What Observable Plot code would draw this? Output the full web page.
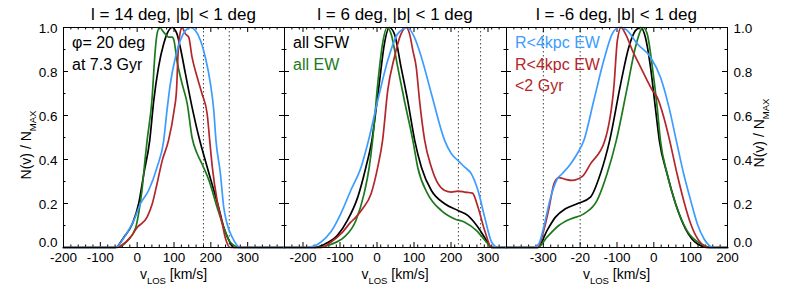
<!DOCTYPE html>
<html><head><meta charset="utf-8">
<script src="https://cdn.jsdelivr.net/npm/d3@7"></script>
<script src="https://cdn.jsdelivr.net/npm/@observablehq/plot@0.6"></script>
<style>
body{margin:0;background:#fff;}
#chart{position:relative;width:788px;height:285px;overflow:hidden;background:#fff;}
#chart svg{position:absolute;left:0;top:0;background:transparent;}
</style></head><body><div id="chart"></div>
<script>
// ---------- data ----------
const panelTitles = ["l = 14 deg, |b| < 1 deg", "l = 6 deg, |b| < 1 deg", "l = -6 deg, |b| < 1 deg"];
const xDomains = [[-200, 400], [-250, 350], [-400, 200]];
const xTickValues = [[-200,-100,0,100,200,300], [-200,-100,0,100,200,300], [-300,-200,-100,0,100,200]];
const xTickLabels = [["-200","-100","0","100","200","300"], ["-200","-100","0","100","200","300"], ["-300","-20","-100","0","100","200"]];
const yTickValues = [0, 0.2, 0.4, 0.6, 0.8, 1.0];
const yTickLabels = ["0.0","0.2","0.4","0.6","0.8","1.0"];
const dottedLines = [[180, 250], [220, 280], [-300, -200]];
const seriesColors = {sfw: "#000000", ew: "#1c7a1c", young: "#b3262a", inner: "#3d9cff"};
const annotations = [
  [{text: "φ= 20 deg", color: "#000"}, {text: "at 7.3 Gyr", color: "#000"}],
  [{text: "all SFW", color: "#000"}, {text: "all EW", color: "#1c7a1c"}],
  [{text: "R<4kpc EW", color: "#3d9cff"}, {text: "R<4kpc EW", color: "#b3262a"}, {text: "<2 Gyr", color: "#b3262a"}]
];

// l = 14 deg  [v_LOS, N/Nmax]
const l14_sfw = [[-200,0],[-59,0],[-36,0.047],[-13,0.108],[4,0.199],[18,0.335],[34,0.486],[45,0.668],[58,0.82],[72,0.926],[81,0.971],[95,1.0],[108,0.971],[117,0.91],[131,0.79],[149,0.638],[170,0.486],[185,0.395],[203,0.29],[221,0.183],[235,0.092],[249,0.032],[262,0],[400,0]];
const l14_ew = [[-200,0],[-55,0],[-27,0.03],[-4,0.09],[4,0.155],[13,0.259],[22,0.41],[27,0.486],[40,0.668],[49,0.895],[54,0.971],[61,1.0],[72,0.979],[86,0.956],[95,0.956],[100,0.941],[108,0.85],[122,0.744],[136,0.653],[149,0.5],[163,0.426],[176,0.38],[195,0.305],[217,0.183],[235,0.092],[253,0.024],[280,0],[400,0]];
const l14_young = [[-200,0],[-60,0],[-43,0.009],[-18,0.047],[0,0.091],[27,0.138],[41,0.199],[54,0.29],[68,0.395],[85,0.486],[100,0.62],[107,0.72],[111,0.88],[116,0.97],[122,1.0],[131,0.971],[140,0.956],[149,0.865],[163,0.774],[176,0.699],[190,0.608],[197,0.486],[204,0.365],[217,0.214],[231,0.108],[240,0.04],[253,0],[400,0]];
const l14_inner = [[-200,0],[-59,0],[-32,0.055],[-9,0.123],[9,0.199],[31,0.259],[54,0.365],[72,0.486],[81,0.623],[90,0.744],[104,0.865],[117,0.941],[131,0.986],[145,1.0],[158,0.986],[172,0.941],[185,0.865],[199,0.744],[208,0.623],[214,0.486],[226,0.335],[235,0.183],[244,0.108],[258,0.047],[280,0],[400,0]];

// l = 6 deg
const l6_sfw = [[-250,0],[-170,0],[-143,0.014],[-107,0.055],[-80,0.123],[-52,0.229],[-30,0.365],[-14,0.486],[6,0.744],[20,0.926],[33,1.0],[47,0.971],[65,0.82],[83,0.668],[102,0.486],[120,0.365],[147,0.259],[183,0.199],[219,0.168],[246,0.145],[273,0.092],[296,0.032],[310,0],[350,0]];
const l6_ew = [[-250,0],[-160,0],[-125,0.014],[-89,0.047],[-57,0.123],[-35,0.244],[-21,0.365],[-12,0.486],[2,0.744],[15,0.926],[27,1.0],[38,0.971],[56,0.82],[74,0.668],[97,0.486],[110,0.365],[137,0.244],[174,0.168],[210,0.13],[237,0.115],[269,0.077],[296,0.024],[310,0],[350,0]];
const l6_young = [[-250,0],[-150,0],[-125,0.024],[-93,0.07],[-71,0.115],[-57,0.138],[-39,0.176],[-16,0.244],[2,0.365],[15,0.486],[29,0.714],[47,0.865],[65,0.971],[79,1.0],[88,0.971],[97,0.895],[106,0.82],[115,0.668],[129,0.486],[147,0.365],[165,0.29],[183,0.259],[201,0.252],[219,0.256],[237,0.252],[258,0.247],[273,0.183],[291,0.077],[310,0],[350,0]];
const l6_inner = [[-250,0],[-190,0],[-152,0.024],[-125,0.07],[-98,0.153],[-71,0.259],[-43,0.365],[-23,0.486],[2,0.668],[29,0.85],[56,0.971],[83,1.0],[101,0.956],[120,0.865],[147,0.699],[183,0.486],[201,0.426],[219,0.395],[237,0.365],[255,0.335],[273,0.259],[291,0.138],[310,0.024],[328,0],[350,0]];

// l = -6 deg
const lm6_sfw = [[-400,0],[-315,0],[-290,0.077],[-267,0.138],[-240,0.176],[-208,0.199],[-172,0.229],[-145,0.335],[-120,0.486],[-90,0.744],[-68,0.91],[-50,0.986],[-36,1.0],[-23,0.956],[-9,0.82],[4,0.638],[15,0.486],[36,0.335],[59,0.199],[86,0.085],[118,0.017],[150,0],[200,0]];
const lm6_ew = [[-400,0],[-315,0],[-290,0.047],[-258,0.1],[-226,0.13],[-190,0.153],[-154,0.214],[-127,0.335],[-102,0.486],[-72,0.729],[-50,0.91],[-36,0.986],[-29,1.0],[-18,0.971],[-4,0.82],[9,0.638],[18,0.486],[36,0.335],[59,0.199],[90,0.077],[127,0.017],[160,0],[200,0]];
const lm6_young = [[-400,0],[-315,0],[-299,0.077],[-285,0.176],[-271,0.29],[-258,0.318],[-240,0.31],[-222,0.305],[-194,0.323],[-172,0.38],[-133,0.486],[-108,0.74],[-99,0.941],[-89,1.0],[-77,0.971],[-58,0.895],[-36,0.82],[-18,0.759],[-4,0.714],[9,0.683],[27,0.592],[43,0.486],[63,0.335],[81,0.214],[100,0.108],[122,0.032],[150,0],[200,0]];
const lm6_inner = [[-400,0],[-326,0],[-312,0.017],[-299,0.092],[-280,0.229],[-262,0.312],[-249,0.335],[-226,0.38],[-208,0.426],[-190,0.486],[-163,0.668],[-136,0.85],[-113,0.971],[-95,1.0],[-85,1.0],[-72,0.986],[-45,0.926],[-9,0.865],[18,0.774],[41,0.638],[61,0.486],[81,0.335],[100,0.214],[118,0.108],[136,0.04],[163,0],[200,0]];

const panelSeries = [
  [["sfw", l14_sfw], ["ew", l14_ew], ["young", l14_young], ["inner", l14_inner]],
  [["sfw", l6_sfw], ["ew", l6_ew], ["young", l6_young], ["inner", l6_inner]],
  [["sfw", lm6_sfw], ["ew", lm6_ew], ["young", lm6_young], ["inner", lm6_inner]]
];

// ---------- layout ----------
const W = 788, H = 285;
const frames = [[63, 284], [284, 506], [506, 727]];
const mTop = 27, mBottom = 38;
const frameH = H - mTop - mBottom;
const font = "'Liberation Sans', Arial, Helvetica, sans-serif";
const chart = document.getElementById("chart");

function range(a, b, step) { const out = []; for (let v = a; v <= b + 1e-9; v += step) out.push(+v.toFixed(6)); return out; }

frames.forEach(([x0, x1], i) => {
  const fw = x1 - x0;
  const [d0, d1] = xDomains[i];
  const majorX = range(Math.ceil(d0 / 100) * 100, d1, 100);
  const minorX = range(d0, d1, 20).filter(v => !majorX.includes(v));
  const majorY = yTickValues;
  const minorY = range(0, 1, 0.1).filter(v => !majorY.some(m => Math.abs(m - v) < 1e-6));
  const marks = [
    Plot.ruleX(dottedLines[i], {stroke: "#444", strokeWidth: 1, strokeDasharray: "1.5,2.5"}),
    // inward ticks on all four sides
    Plot.tickX(majorX, {x: d => d, insetTop: frameH - 5, stroke: "#000"}),
    Plot.tickX(minorX, {x: d => d, insetTop: frameH - 2.5, stroke: "#000"}),
    Plot.tickX(majorX, {x: d => d, insetBottom: frameH - 5, stroke: "#000"}),
    Plot.tickX(minorX, {x: d => d, insetBottom: frameH - 2.5, stroke: "#000"}),
    Plot.tickY(majorY, {y: d => d, insetRight: fw - 5, stroke: "#000"}),
    Plot.tickY(minorY, {y: d => d, insetRight: fw - 2.5, stroke: "#000"}),
    Plot.tickY(majorY, {y: d => d, insetLeft: fw - 5, stroke: "#000"}),
    Plot.tickY(minorY, {y: d => d, insetLeft: fw - 2.5, stroke: "#000"}),
    ...panelSeries[i].map(([key, data]) =>
      Plot.line(data, {x: d => d[0], y: d => d[1], stroke: seriesColors[key], strokeWidth: 1.7, curve: "monotone-x"})),
    Plot.frame({stroke: "#000", strokeWidth: 1}),
    Plot.axisX(xTickValues[i], {tickSize: 0, tickPadding: 5, fontSize: 13.5,
      tickFormat: d => xTickLabels[i][xTickValues[i].indexOf(d)]})
  ];
  if (i === 0 || i === 2) {
    const anchor = i === 0 ? "left" : "right";
    marks.push(Plot.axisY(yTickValues.slice(1), {anchor, tickSize: 0, tickPadding: 6, fontSize: 13.5, dy: 1,
      tickFormat: d => yTickLabels[yTickValues.indexOf(d)]}));
    marks.push(Plot.axisY([0], {anchor, tickSize: 0, tickPadding: 6, fontSize: 13.5, dy: -5,
      tickFormat: d => yTickLabels[0]}));
  }
  const svg = Plot.plot({
    width: W, height: H,
    marginLeft: x0, marginRight: W - x1, marginTop: mTop, marginBottom: mBottom,
    x: {domain: xDomains[i], label: null, axis: null},
    y: {domain: [0, 1], label: null, axis: null},
    style: {fontFamily: font, color: "#000", background: "transparent", overflow: "visible"},
    marks
  });
  chart.appendChild(svg);
  const s = d3.select(svg);
  const cx = (x0 + x1) / 2;
  // panel title
  s.append("text").attr("x", cx).attr("y", 20).attr("text-anchor", "middle")
    .attr("font-family", font).attr("font-size", 17).attr("fill", "#000").text(panelTitles[i]);
  // x axis title with subscript
  const xt = s.append("text").attr("x", cx).attr("y", 279).attr("text-anchor", "middle")
    .attr("font-family", font).attr("font-size", 14).attr("fill", "#000");
  xt.append("tspan").text("v");
  xt.append("tspan").attr("font-size", 9.5).attr("dy", 4.5).text("LOS");
  xt.append("tspan").attr("dy", -4.5).text(" [km/s]");
  // annotations
  annotations[i].forEach((a, k) => {
    s.append("text").attr("x", x0 + 9).attr("y", 48 + k * 21.5).attr("text-anchor", "start")
      .attr("font-family", font).attr("font-size", 16).attr("fill", a.color).text(a.text);
  });
});

// y axis titles (left and right)
const overlay = d3.select(chart).append("svg").attr("width", W).attr("height", H)
  .style("position", "absolute").style("left", 0).style("top", 0);
[[31, 145], [764, 133]].forEach(([x, y]) => {
  const t = overlay.append("text").attr("transform", `translate(${x},${y}) rotate(-90)`)
    .attr("text-anchor", "middle").attr("font-family", font).attr("font-size", 14).attr("fill", "#000");
  t.append("tspan").text("N(v) / N");
  t.append("tspan").attr("font-size", 9.5).attr("dy", 5).text("MAX");
});
</script></body></html>
